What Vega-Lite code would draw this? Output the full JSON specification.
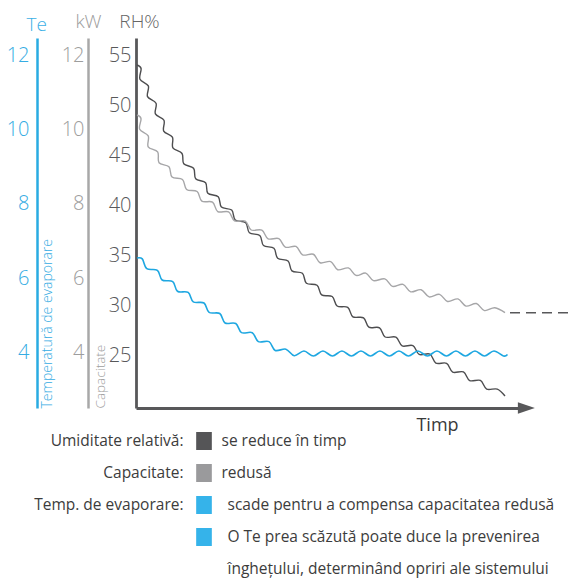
{
  "$schema": "https://vega.github.io/schema/vega-lite/v6.json",
  "width": 392,
  "height": 370,
  "autosize": {"type": "none"},
  "padding": {"left": 136, "top": 38, "right": 40, "bottom": 171},
  "background": "white",
  "config": {
    "view": {"stroke": null},
    "font": "Open Sans",
    "axis": {"grid": false, "ticks": false}
  },
  "title": {"text": "Te", "anchor": "start", "frame": "group", "align": "center", "dx": -99.3, "dy": 22, "offset": 0, "color": "#3cb0e6", "fontSize": 19, "fontWeight": 300},
  "datasets": {
    "rh": [
      {"i": 0, "t": 0.25, "rh": 54.0}, {"i": 1, "t": 1.27, "rh": 53.65}, {"i": 2, "t": 0.99, "rh": 52.58},
      {"i": 3, "t": 3.08, "rh": 51.91}, {"i": 4, "t": 2.885, "rh": 50.84}, {"i": 5, "t": 5.005, "rh": 50.18},
      {"i": 6, "t": 4.85, "rh": 49.11}, {"i": 7, "t": 6.99, "rh": 48.47}, {"i": 8, "t": 6.93, "rh": 47.39},
      {"i": 9, "t": 9.1, "rh": 46.79}, {"i": 10, "t": 9.22, "rh": 45.72}, {"i": 11, "t": 11.505, "rh": 45.15},
      {"i": 12, "t": 11.94, "rh": 44.12}, {"i": 13, "t": 14.395, "rh": 43.68}, {"i": 14, "t": 14.92, "rh": 42.63},
      {"i": 15, "t": 17.4, "rh": 42.22}, {"i": 16, "t": 17.96, "rh": 41.17}, {"i": 17, "t": 20.56, "rh": 40.83},
      {"i": 18, "t": 21.355, "rh": 39.8}, {"i": 19, "t": 23.92, "rh": 39.49}, {"i": 20, "t": 24.82, "rh": 38.49},
      {"i": 21, "t": 27.42, "rh": 38.23}, {"i": 22, "t": 28.35, "rh": 37.22}, {"i": 23, "t": 30.95, "rh": 36.95},
      {"i": 24, "t": 31.88, "rh": 35.95}, {"i": 25, "t": 34.485, "rh": 35.68}, {"i": 26, "t": 35.415, "rh": 34.67},
      {"i": 27, "t": 38.015, "rh": 34.41}, {"i": 28, "t": 38.98, "rh": 33.41}, {"i": 29, "t": 41.6, "rh": 33.17},
      {"i": 30, "t": 42.6, "rh": 32.18}, {"i": 31, "t": 45.265, "rh": 31.98}, {"i": 32, "t": 46.415, "rh": 31.01},
      {"i": 33, "t": 49.05, "rh": 30.85}, {"i": 34, "t": 50.28, "rh": 29.9}, {"i": 35, "t": 52.94, "rh": 29.76},
      {"i": 36, "t": 54.22, "rh": 28.82}, {"i": 37, "t": 56.89, "rh": 28.72}, {"i": 38, "t": 58.21, "rh": 27.78},
      {"i": 39, "t": 60.89, "rh": 27.72}, {"i": 40, "t": 62.28, "rh": 26.8}, {"i": 41, "t": 64.98, "rh": 26.79},
      {"i": 42, "t": 66.54, "rh": 25.91}, {"i": 43, "t": 69.225, "rh": 25.94}, {"i": 44, "t": 70.79, "rh": 25.06},
      {"i": 45, "t": 73.475, "rh": 25.09}, {"i": 46, "t": 74.965, "rh": 24.19}, {"i": 47, "t": 77.65, "rh": 24.17},
      {"i": 48, "t": 79.17, "rh": 23.29}, {"i": 49, "t": 81.855, "rh": 23.31}, {"i": 50, "t": 83.42, "rh": 22.44},
      {"i": 51, "t": 86.1, "rh": 22.46}, {"i": 52, "t": 87.67, "rh": 21.59}, {"i": 53, "t": 90.33, "rh": 21.59},
      {"i": 54, "t": 92.25, "rh": 20.9}
    ],
    "capacitate": [
      {"i": 0, "t": 0.25, "kw": 10.387}, {"i": 1, "t": 1.2525, "kw": 10.291}, {"i": 2, "t": 0.915, "kw": 10.005},
      {"i": 3, "t": 3.055, "kw": 9.827}, {"i": 4, "t": 3.05, "kw": 9.532}, {"i": 5, "t": 5.41, "kw": 9.394},
      {"i": 6, "t": 5.76, "kw": 9.104}, {"i": 7, "t": 8.24, "kw": 8.994}, {"i": 8, "t": 9.01, "kw": 8.719},
      {"i": 9, "t": 11.62, "kw": 8.653}, {"i": 10, "t": 12.64, "kw": 8.386}, {"i": 11, "t": 15.28, "kw": 8.331},
      {"i": 12, "t": 16.46, "kw": 8.071}, {"i": 13, "t": 19.13, "kw": 8.044}, {"i": 14, "t": 20.44, "kw": 7.792},
      {"i": 15, "t": 23.155, "kw": 7.783}, {"i": 16, "t": 24.63, "kw": 7.542}, {"i": 17, "t": 27.315, "kw": 7.537},
      {"i": 18, "t": 28.795, "kw": 7.296}, {"i": 19, "t": 31.46, "kw": 7.293}, {"i": 20, "t": 33.02, "kw": 7.058},
      {"i": 21, "t": 35.705, "kw": 7.064}, {"i": 22, "t": 37.32, "kw": 6.835}, {"i": 23, "t": 40.0, "kw": 6.853},
      {"i": 24, "t": 41.655, "kw": 6.626}, {"i": 25, "t": 44.335, "kw": 6.644}, {"i": 26, "t": 46.015, "kw": 6.416},
      {"i": 27, "t": 48.685, "kw": 6.446}, {"i": 28, "t": 50.43, "kw": 6.227}, {"i": 29, "t": 53.1, "kw": 6.276},
      {"i": 30, "t": 55.02, "kw": 6.074}, {"i": 31, "t": 57.44, "kw": 6.137}, {"i": 32, "t": 59.36, "kw": 5.935},
      {"i": 33, "t": 62.2, "kw": 5.983}, {"i": 34, "t": 64.12, "kw": 5.781}, {"i": 35, "t": 66.75, "kw": 5.836},
      {"i": 36, "t": 68.67, "kw": 5.634}, {"i": 37, "t": 71.275, "kw": 5.691}, {"i": 38, "t": 73.275, "kw": 5.498},
      {"i": 39, "t": 75.88, "kw": 5.567}, {"i": 40, "t": 77.88, "kw": 5.375}, {"i": 41, "t": 80.49, "kw": 5.443},
      {"i": 42, "t": 82.49, "kw": 5.251}, {"i": 43, "t": 85.1, "kw": 5.319}, {"i": 44, "t": 87.12, "kw": 5.13},
      {"i": 45, "t": 89.71, "kw": 5.207}, {"i": 46, "t": 92.25, "kw": 5.073}
    ],
    "prelungire": [
      {"i": 0, "t": 93.5, "kw": 5.073}, {"i": 1, "t": 110, "kw": 5.073}
    ],
    "te": [
      {"i": 0, "t": 0.25, "te": 6.543}, {"i": 1, "t": 1.5725, "te": 6.519}, {"i": 2, "t": 2.6925, "te": 6.256},
      {"i": 3, "t": 5.3525, "te": 6.212}, {"i": 4, "t": 6.5275, "te": 5.952}, {"i": 5, "t": 9.1825, "te": 5.91},
      {"i": 6, "t": 10.3575, "te": 5.65}, {"i": 7, "t": 13.0425, "te": 5.617}, {"i": 8, "t": 14.3225, "te": 5.364},
      {"i": 9, "t": 16.995, "te": 5.334}, {"i": 10, "t": 18.275, "te": 5.08}, {"i": 11, "t": 20.945, "te": 5.051},
      {"i": 12, "t": 22.2625, "te": 4.797}, {"i": 13, "t": 24.945, "te": 4.781}, {"i": 14, "t": 26.3825, "te": 4.536},
      {"i": 15, "t": 29.0675, "te": 4.535}, {"i": 16, "t": 30.575, "te": 4.296}, {"i": 17, "t": 33.26, "te": 4.295},
      {"i": 18, "t": 34.8, "te": 4.059}, {"i": 19, "t": 37.47, "te": 4.093}, {"i": 20, "t": 39.58, "te": 3.916},
      {"i": 21, "t": 41.985, "te": 4.043}, {"i": 22, "t": 44.36, "te": 3.909}, {"i": 23, "t": 46.735, "te": 4.043},
      {"i": 24, "t": 49.11, "te": 3.909}, {"i": 25, "t": 51.485, "te": 4.043}, {"i": 26, "t": 53.86, "te": 3.909},
      {"i": 27, "t": 56.235, "te": 4.043}, {"i": 28, "t": 58.61, "te": 3.909}, {"i": 29, "t": 60.985, "te": 4.043},
      {"i": 30, "t": 63.36, "te": 3.909}, {"i": 31, "t": 65.735, "te": 4.043}, {"i": 32, "t": 68.11, "te": 3.909},
      {"i": 33, "t": 70.485, "te": 4.043}, {"i": 34, "t": 72.86, "te": 3.909}, {"i": 35, "t": 75.235, "te": 4.043},
      {"i": 36, "t": 77.61, "te": 3.909}, {"i": 37, "t": 79.985, "te": 4.043}, {"i": 38, "t": 82.36, "te": 3.909},
      {"i": 39, "t": 84.735, "te": 4.043}, {"i": 40, "t": 87.11, "te": 3.909}, {"i": 41, "t": 89.485, "te": 4.043},
      {"i": 42, "t": 91.86, "te": 3.909}, {"i": 43, "t": 92.875, "te": 3.949}
    ],
    "sageata": [{"t": 97.6, "rh": 19.7}],
    "legenda": [
      {"rand": 1, "eticheta": "Umiditate relativă:", "serie": "RH", "grup": "A", "descriere": "se reduce în timp"},
      {"rand": 2, "eticheta": "Capacitate:", "serie": "Capacitate", "grup": "A", "descriere": "redusă"},
      {"rand": 3, "eticheta": "Temp. de evaporare:", "serie": "Te", "grup": "B", "descriere": "scade pentru a compensa capacitatea redusă"},
      {"rand": 4, "eticheta": "", "serie": "Te", "grup": "B", "descriere": "O Te prea scăzută poate duce la prevenirea"},
      {"rand": 5, "eticheta": "", "serie": null, "grup": "B", "descriere": "înghețului, determinând opriri ale sistemului"}
    ]
  },
  "layer": [
    {
      "layer": [
        {
          "data": {"name": "rh"},
          "mark": {"type": "line", "interpolate": "cardinal", "color": "#4d4d4f", "strokeWidth": 1.4},
          "encoding": {
            "x": {
              "field": "t", "type": "quantitative",
              "scale": {"domain": [0, 98], "nice": false, "zero": false},
              "axis": {"orient": "bottom", "domainColor": "#58585a", "domainWidth": 3, "labels": false, "ticks": false, "grid": false,
                "title": "Timp", "titleX": 301, "titleY": 17, "titleAlign": "center", "titleBaseline": "middle",
                "titleFontSize": 18, "titleFontWeight": 400, "titleColor": "#3a3a3a"}
            },
            "y": {
              "field": "rh", "type": "quantitative",
              "scale": {"domain": [19.7, 56.7], "nice": false, "zero": false},
              "axis": {"orient": "left", "values": [25, 30, 35, 40, 45, 50, 55], "domainColor": "#58585a", "domainWidth": 2.8,
                "labelColor": "#58585a", "labelFontSize": 20, "labelFontWeight": 300, "labelPadding": 5,
                "title": "RH%", "titleAngle": 0, "titleX": 3, "titleY": -16.5, "titleAlign": "center", "titleBaseline": "middle",
                "titleColor": "#666666", "titleFontSize": 19, "titleFontWeight": 300}
            },
            "order": {"field": "i", "type": "quantitative"}
          }
        },
        {
          "data": {"name": "sageata"},
          "mark": {"type": "point", "shape": "M-1,-0.69L1,0L-1,0.69Z", "filled": true, "size": 289, "color": "#58585a", "opacity": 1},
          "encoding": {
            "x": {"field": "t", "type": "quantitative", "scale": {"domain": [0, 98], "nice": false, "zero": false}},
            "y": {"field": "rh", "type": "quantitative"}
          }
        }
      ]
    },
    {
      "data": {"name": "capacitate"},
      "mark": {"type": "line", "interpolate": "cardinal", "color": "#a6a6a8", "strokeWidth": 1.4},
      "encoding": {
        "x": {"field": "t", "type": "quantitative", "scale": {"domain": [0, 98], "nice": false, "zero": false}},
        "y": {
          "field": "kw", "type": "quantitative",
          "scale": {"domain": [2.511, 12.457], "nice": false, "zero": false},
          "axis": {"orient": "left", "offset": 48, "values": [4, 6, 8, 10, 12], "domainColor": "#a8a8a8", "domainWidth": 2.5,
            "labelColor": "#9d9d9d", "labelFontSize": 20, "labelFontWeight": 300, "labelPadding": 4,
            "title": "Capacitate", "titleAngle": 270, "titleX": 12, "titleY": 370, "titleAlign": "left", "titleBaseline": "middle",
            "titleColor": "#9d9d9d", "titleFontSize": 13.5, "titleFontWeight": 300}
        },
        "order": {"field": "i", "type": "quantitative"}
      }
    },
    {
      "data": {"name": "prelungire"},
      "mark": {"type": "line", "color": "#58585a", "strokeWidth": 1.6, "strokeDash": [10, 6]},
      "encoding": {
        "x": {"field": "t", "type": "quantitative", "scale": {"domain": [0, 98], "nice": false, "zero": false}},
        "y": {
          "field": "kw", "type": "quantitative",
          "scale": {"domain": [2.511, 12.457], "nice": false, "zero": false},
          "axis": {"orient": "left", "offset": 48, "domain": false, "labels": false, "ticks": false, "grid": false,
            "title": "kW", "titleAngle": 0, "titleX": 0, "titleY": -16.5, "titleAlign": "center", "titleBaseline": "middle",
            "titleColor": "#9d9d9d", "titleFontSize": 19, "titleFontWeight": 300}
        },
        "order": {"field": "i", "type": "quantitative"}
      }
    },
    {
      "data": {"name": "te"},
      "mark": {"type": "line", "interpolate": "cardinal", "color": "#1ea7e1", "strokeWidth": 1.6},
      "encoding": {
        "x": {"field": "t", "type": "quantitative", "scale": {"domain": [0, 98], "nice": false, "zero": false}},
        "y": {
          "field": "te", "type": "quantitative",
          "scale": {"domain": [2.511, 12.457], "nice": false, "zero": false},
          "axis": {"orient": "left", "offset": 99, "values": [4, 6, 8, 10, 12], "domainColor": "#29abe2", "domainWidth": 2.5,
            "labelColor": "#35ace3", "labelFontSize": 20, "labelFontWeight": 300, "labelPadding": 8,
            "title": "Temperatură de evaporare", "titleAngle": 270, "titleX": 10, "titleY": 370, "titleAlign": "left", "titleBaseline": "middle",
            "titleColor": "#35ace3", "titleFontSize": 14, "titleFontWeight": 300}
        },
        "order": {"field": "i", "type": "quantitative"}
      }
    },
    {
      "data": {"name": "legenda"},
      "layer": [
        {
          "transform": [{"filter": "datum.serie != null"}],
          "mark": {"type": "point", "shape": "M-0.87,-1H0.87V1H-0.87Z", "filled": true, "size": 324, "opacity": 1},
          "encoding": {
            "x": {"datum": 17},
            "y": {"field": "rand", "type": "ordinal", "scale": {"type": "point", "range": [403, 531], "padding": 0}, "axis": null},
            "color": {"field": "serie", "type": "nominal", "scale": {"domain": ["RH", "Capacitate", "Te"], "range": ["#555557", "#9a9a9c", "#35b3ea"]}, "legend": null}
          }
        },
        {
          "mark": {"type": "text", "align": "right", "dx": -20.5, "fontSize": 15.5, "color": "#3c3c3c"},
          "encoding": {
            "x": {"datum": 17},
            "y": {"field": "rand", "type": "ordinal"},
            "text": {"field": "eticheta"}
          }
        },
        {
          "transform": [{"filter": "datum.grup == 'A'"}],
          "mark": {"type": "text", "align": "left", "dx": 17.5, "fontSize": 15.5, "color": "#3c3c3c"},
          "encoding": {
            "x": {"datum": 17},
            "y": {"field": "rand", "type": "ordinal"},
            "text": {"field": "descriere"}
          }
        },
        {
          "transform": [{"filter": "datum.grup == 'B'"}],
          "mark": {"type": "text", "align": "left", "dx": 23.5, "fontSize": 15.5, "color": "#3c3c3c"},
          "encoding": {
            "x": {"datum": 17},
            "y": {"field": "rand", "type": "ordinal"},
            "text": {"field": "descriere"}
          }
        }
      ]
    }
  ],
  "resolve": {"scale": {"y": "independent"}, "axis": {"y": "independent"}}
}
